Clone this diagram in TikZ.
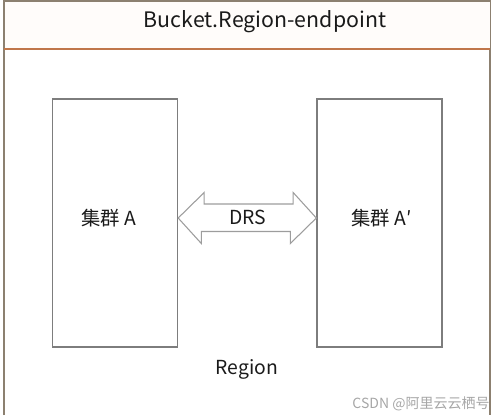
\documentclass[tikz,border=0pt]{standalone}
\usepackage{fontspec}
\setmainfont{Noto Sans CJK SC}
\usetikzlibrary{calc}
\definecolor{framecol}{HTML}{8C8070}
\definecolor{bandcol}{HTML}{C0764A}
\definecolor{boxcol}{HTML}{7D7D7D}
\definecolor{txtcol}{HTML}{1A1A1A}

\begin{document}
\begin{tikzpicture}[x=0.75pt, y=-0.75pt,
	cluster/.style={draw=boxcol, line width=1pt, minimum width=93.75pt, minimum height=186pt, inner sep=0pt},
	label/.style={text=txtcol, font=\fontsize{14.5}{16}\selectfont, inner sep=0pt},
	arrowline/.style={draw=boxcol!75, line width=0.8pt, fill=white, line join=miter}]
		\useasboundingbox (0, 0) rectangle (493, 415);
		\draw [framecol, line width=0.9pt] (4, 415) -- (4, 1) -- (490, 1) -- (490, 415);
		\fill [orange!2] (4.5, 1.5) rectangle (489.5, 48.5);
		\draw [bandcol, line width=1.2pt] (4, 49) -- (490, 49);
		\node [text=txtcol, font=\fontsize{16}{18}\selectfont, inner sep=0pt] (title) at (265, 22) {Bucket.Region-endpoint};
		% the two clusters
		\node [cluster] (cluA) at (115, 223) {};
		\node [cluster] (cluB) at (379.5, 223) {};
		\node [label] (nameA) at (108.5, 218) {集群 A};
		\node [label] (nameB) at (381.5, 218) {集群 A′};
		% replication arrow
		\path [arrowline] ($(cluA.east)+(0, -5)$) -- ++(26, -25.5) -- ++(0, 11.5) -- ++(89, 0) -- ++(0, -11.5) -- ($(cluB.west)+(0, -5)$) -- ++(-26, 25.5) -- ++(0, -12) -- ++(-89, 0) -- ++(0, 12) -- cycle;
		\node [label] (drs) at (247.5, 217) {DRS};
		\node [label] (region) at (247, 369) {Region};
		\node [text=black!35, font=\fontsize{10.5}{12}\selectfont, inner sep=0pt] (mark) at (421, 404) {CSDN @阿里云云栖号};
	\end{tikzpicture}
\end{document}
